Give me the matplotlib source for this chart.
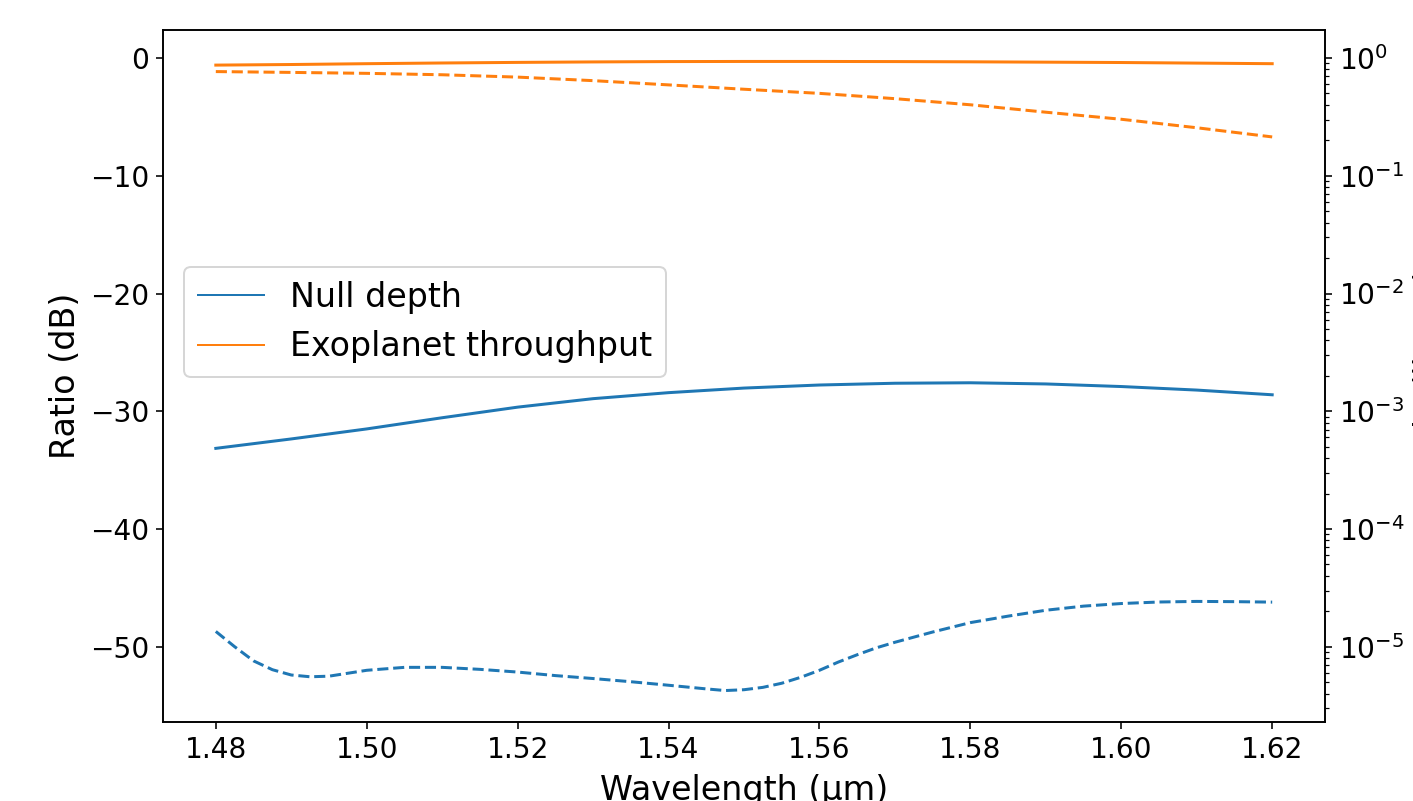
import numpy as np
import matplotlib
matplotlib.use('Agg')
import matplotlib.pyplot as plt
from matplotlib.lines import Line2D

# 파장 (um)
wl_coarse = [1.48, 1.49, 1.50, 1.51, 1.52, 1.53, 1.54, 1.55,
             1.56, 1.57, 1.58, 1.59, 1.60, 1.61, 1.62]
wl_fine = [1.480, 1.4825, 1.485, 1.4875, 1.490, 1.4925, 1.495, 1.4975,
           1.500, 1.505, 1.510, 1.515, 1.520, 1.525, 1.530, 1.535,
           1.540, 1.545, 1.5475, 1.550, 1.5525, 1.555, 1.5575, 1.560,
           1.5625, 1.565, 1.5675, 1.570, 1.575, 1.580, 1.585, 1.590,
           1.595, 1.600, 1.605, 1.610, 1.615, 1.620]

# Null depth (dB)
null_solid = [-33.15, -32.35, -31.5, -30.55, -29.65, -28.93, -28.42, -28.03,
              -27.77, -27.62, -27.58, -27.68, -27.9, -28.2, -28.6]
null_dashed = [-48.7, -50.0, -51.2, -51.95, -52.4, -52.55, -52.5, -52.25,
               -52.0, -51.75, -51.75, -51.92, -52.15, -52.45, -52.7, -52.97,
               -53.27, -53.58, -53.72, -53.65, -53.45, -53.1, -52.6, -52.0,
               -51.3, -50.68, -50.1, -49.62, -48.75, -47.95, -47.4, -46.9,
               -46.55, -46.33, -46.2, -46.15, -46.17, -46.21]

# Exoplanet throughput (dB)
exo_solid = [-0.6, -0.55, -0.48, -0.42, -0.37, -0.33, -0.3, -0.29,
             -0.29, -0.3, -0.32, -0.35, -0.38, -0.43, -0.48]
exo_dashed = [-1.15, -1.22, -1.3, -1.42, -1.62, -1.92, -2.28, -2.65,
              -3.0, -3.45, -3.97, -4.6, -5.2, -5.92, -6.7]

blue = '#1f77b4'
orange = '#ff7f0e'

fig = plt.figure(figsize=(1413 / 144, 801 / 144), dpi=144)
ax = fig.add_axes([163 / 1413, 79 / 801, 1162 / 1413, 692 / 801])

ax.plot(wl_coarse, null_solid, color=blue, lw=1.5)
ax.plot(wl_fine, null_dashed, color=blue, lw=1.5, ls='--')
ax.plot(wl_coarse, exo_solid, color=orange, lw=1.5)
ax.plot(wl_coarse, exo_dashed, color=orange, lw=1.5, ls='--')

ax.set_xticks([1.48, 1.50, 1.52, 1.54, 1.56, 1.58, 1.60, 1.62])
ax.set_xlabel('Wavelength (µm)', fontsize=16.7, labelpad=5)
ax.set_ylabel('Ratio (dB)', fontsize=16.7)
ax.tick_params(labelsize=14)

# 오른쪽 축: 선형 비율 (로그 스케일)
ax2 = ax.twinx()
ax2.set_yscale('log')
lo, hi = ax.get_ylim()
ax2.set_ylim(10 ** (lo / 10), 10 ** (hi / 10))
ax2.set_ylabel('Ratio (linear)', fontsize=16.7)
ax2.tick_params(labelsize=14)

handles = [Line2D([], [], color=blue, lw=1.0),
           Line2D([], [], color=orange, lw=1.0)]
ax.legend(handles, ['Null depth', 'Exoplanet throughput'], fontsize=16.6,
          loc='center left', bbox_to_anchor=(0.004, 0.578))

fig.savefig('out.png', dpi=144)
